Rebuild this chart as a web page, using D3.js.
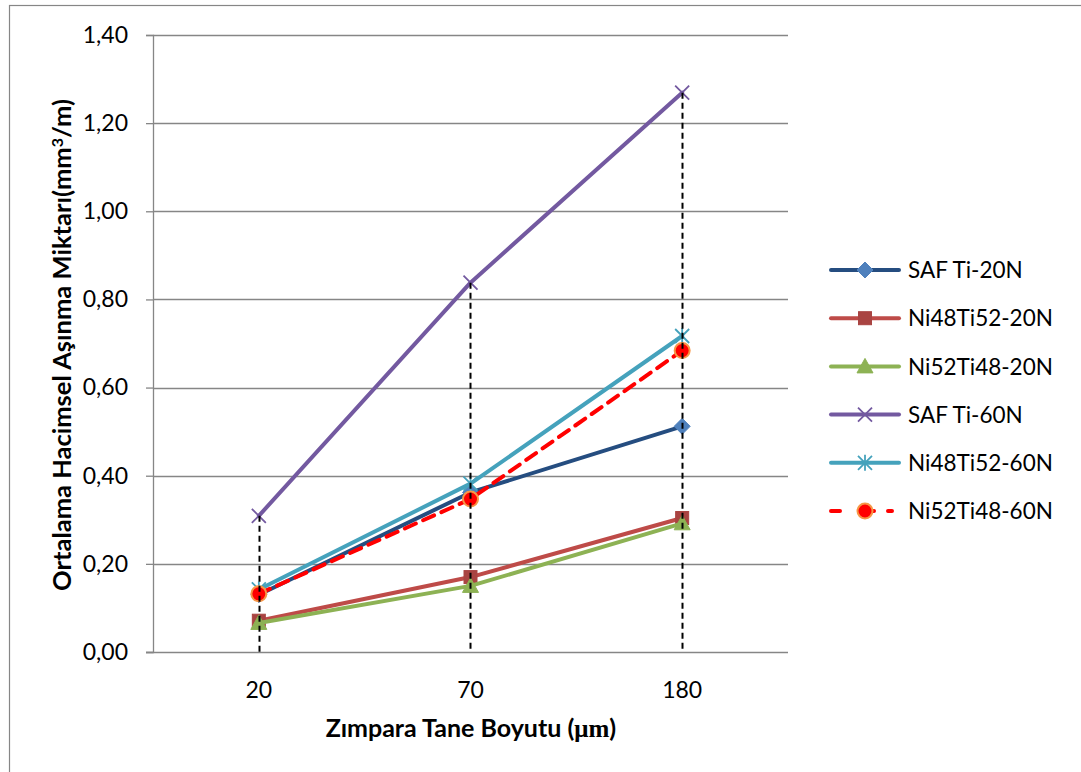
<!DOCTYPE html>
<html>
<head>
<meta charset="utf-8">
<script src="https://cdn.jsdelivr.net/npm/d3@7"></script>
<style>
  html, body { margin: 0; padding: 0; background: #fff; }
  svg { display: block; }
  text { font-family: Lato, "Open Sans", sans-serif; fill: #000; }
</style>
</head>
<body>
<svg id="chart" width="1081" height="772"></svg>
<script>
// Grit size categories (µm)
const grainSizes = ["20", "70", "180"];

// Mean volumetric wear (mm³/m) per material and load
const safTi20N     = [0.130, 0.362, 0.512];
const ni48Ti52_20N = [0.071, 0.170, 0.304];
const ni52Ti48_20N = [0.066, 0.150, 0.292];
const safTi60N     = [0.309, 0.838, 1.269];
const ni48Ti52_60N = [0.142, 0.382, 0.717];
const ni52Ti48_60N = [0.132, 0.347, 0.684];

const seriesNames = ["SAF Ti-20N", "Ni48Ti52-20N", "Ni52Ti48-20N", "SAF Ti-60N", "Ni48Ti52-60N", "Ni52Ti48-60N"];
const yTicks = [0, 0.2, 0.4, 0.6, 0.8, 1.0, 1.2, 1.4];

const series = [
  { name: seriesNames[0], values: safTi20N,     line: "#254d80", marker: "diamond",  fill: "#4f81bd", stroke: "#4f81bd" },
  { name: seriesNames[1], values: ni48Ti52_20N, line: "#be4b48", marker: "square",   fill: "#a94442", stroke: "#a94442" },
  { name: seriesNames[2], values: ni52Ti48_20N, line: "#8db254", marker: "triangle", fill: "#8db254", stroke: "#8db254" },
  { name: seriesNames[3], values: safTi60N,     line: "#7359a0", marker: "cross",    fill: "none",    stroke: "#7359a0" },
  { name: seriesNames[4], values: ni48Ti52_60N, line: "#45a2bc", marker: "asterisk", fill: "none",    stroke: "#45a2bc" },
  { name: seriesNames[5], values: ni52Ti48_60N, line: "#ff0000", marker: "circle",   fill: "#ff0000", stroke: "#f79646", dash: "12,8" }
];

const svg = d3.select("#chart");
const plotLeft = 153, plotRight = 788, plotTop = 35, plotBottom = 652;

// outer chart frame
svg.append("rect")
  .attr("x", 9.5).attr("y", 5.5).attr("width", 1100).attr("height", 800)
  .attr("fill", "none").attr("stroke", "#868686").attr("stroke-width", 1.2);

const x = d3.scaleBand().domain(grainSizes).range([plotLeft, plotRight]).padding(0);
const cx = d => x(d) + x.bandwidth() / 2;
const y = d3.scaleLinear().domain([0, 1.4]).range([plotBottom, plotTop]);

// horizontal gridlines
svg.append("g")
  .selectAll("line").data(yTicks.slice(1)).join("line")
  .attr("x1", plotLeft).attr("x2", plotRight)
  .attr("y1", d => Math.round(y(d)) + 0.5).attr("y2", d => Math.round(y(d)) + 0.5)
  .attr("stroke", "#868686").attr("stroke-width", 1.3);

// y axis
const yAxis = svg.append("g").attr("transform", `translate(${plotLeft},0)`)
  .call(d3.axisLeft(y).tickValues(yTicks).tickSize(7).tickPadding(18)
    .tickFormat(d => d3.format(".2f")(d).replace(".", ",")));
yAxis.select(".domain").attr("stroke", "#868686").attr("stroke-width", 1.3);
yAxis.selectAll(".tick line").attr("stroke", "#868686").attr("stroke-width", 1.3);
yAxis.selectAll(".tick text").attr("font-size", 23).attr("fill", "#000")
  .style("font-family", "Lato, sans-serif");

// x axis
const xAxis = svg.append("g").attr("transform", `translate(0,${plotBottom})`)
  .call(d3.axisBottom(x).tickSize(0).tickPadding(30));
xAxis.select(".domain").attr("d", `M${plotLeft - 7},0.5H${plotRight}`)
  .attr("stroke", "#868686").attr("stroke-width", 1.3);
xAxis.selectAll(".tick text").attr("font-size", 23).attr("fill", "#000")
  .style("font-family", "Lato, sans-serif");

// axis titles
const xt = svg.append("text")
  .attr("x", 471).attr("y", 737).attr("text-anchor", "middle")
  .attr("font-size", 25).attr("font-weight", "bold");
xt.append("tspan").text("Zımpara Tane Boyutu (");
xt.append("tspan").style("font-family", "'Liberation Serif', serif").text("μm");
xt.append("tspan").text(")");

const yt = svg.append("text")
  .attr("transform", "translate(71,345) rotate(-90)")
  .attr("text-anchor", "middle")
  .attr("font-size", 24).attr("font-weight", "bold")
  .attr("textLength", 492).attr("lengthAdjust", "spacingAndGlyphs");
yt.append("tspan").text("Ortalama Hacimsel Aşınma Miktarı(mm");
yt.append("tspan").attr("dy", -8).attr("font-size", 15).text("3");
yt.append("tspan").attr("dy", 8).text("/m)");

// marker drawing
function drawMarker(g, type, px, py, s) {
  if (type === "diamond") {
    g.append("path").attr("d", `M${px},${py - 8}L${px + 8},${py}L${px},${py + 8}L${px - 8},${py}Z`)
      .attr("fill", s.fill).attr("stroke", s.stroke);
  } else if (type === "square") {
    g.append("rect").attr("x", px - 6.5).attr("y", py - 6.5).attr("width", 13).attr("height", 13)
      .attr("fill", s.fill).attr("stroke", s.stroke);
  } else if (type === "triangle") {
    g.append("path").attr("d", `M${px},${py - 8}L${px + 8},${py + 6.5}L${px - 8},${py + 6.5}Z`)
      .attr("fill", s.fill).attr("stroke", s.stroke);
  } else if (type === "cross") {
    g.append("path").attr("d", `M${px - 7},${py - 7}L${px + 7},${py + 7}M${px - 7},${py + 7}L${px + 7},${py - 7}`)
      .attr("stroke", s.stroke).attr("stroke-width", 1.8);
  } else if (type === "asterisk") {
    g.append("path").attr("d", `M${px - 7},${py - 7}L${px + 7},${py + 7}M${px - 7},${py + 7}L${px + 7},${py - 7}M${px},${py - 8}L${px},${py + 8}`)
      .attr("stroke", s.stroke).attr("stroke-width", 1.8);
  } else if (type === "circle") {
    g.append("circle").attr("cx", px).attr("cy", py).attr("r", 7.5)
      .attr("fill", s.fill).attr("stroke", s.stroke).attr("stroke-width", 2);
  }
}

// series lines and markers
const line = d3.line().x((d, i) => cx(grainSizes[i])).y(d => y(d));
series.forEach(s => {
  const g = svg.append("g");
  g.append("path").datum(s.values).attr("d", line)
    .attr("fill", "none").attr("stroke", s.line).attr("stroke-width", 4)
    .attr("stroke-linecap", "round").attr("stroke-linejoin", "round")
    .attr("stroke-dasharray", s.dash || null);
  s.values.forEach((v, i) => drawMarker(g, s.marker, cx(grainSizes[i]), y(v), s));
});

// vertical dashed drop lines from the highest value in each category
const allSeries = [safTi20N, ni48Ti52_20N, ni52Ti48_20N, safTi60N, ni48Ti52_60N, ni52Ti48_60N];
const maxPerSize = grainSizes.map((c, i) => d3.max(allSeries, a => a[i]));
svg.append("g").selectAll("line").data(grainSizes).join("line")
  .attr("x1", d => Math.round(cx(d)) + 0.5).attr("x2", d => Math.round(cx(d)) + 0.5)
  .attr("y1", (d, i) => y(maxPerSize[i])).attr("y2", plotBottom)
  .attr("stroke", "#000").attr("stroke-width", 2).attr("stroke-dasharray", "6,4");

// legend
const legend = svg.append("g");
series.forEach((s, i) => {
  const ly = 270 + i * 48.2;
  const g = legend.append("g");
  g.append("line").attr("x1", 831).attr("x2", 899).attr("y1", ly).attr("y2", ly)
    .attr("stroke", s.line).attr("stroke-width", 4).attr("stroke-linecap", "round")
    .attr("stroke-dasharray", s.dash ? "9,25,9,14,4" : null);
  drawMarker(g, s.marker, 865, ly, s);
  g.append("text").attr("x", 908).attr("y", ly).attr("dy", "0.36em")
    .attr("font-size", 22.5).text(s.name);
});
</script>
</body>
</html>
